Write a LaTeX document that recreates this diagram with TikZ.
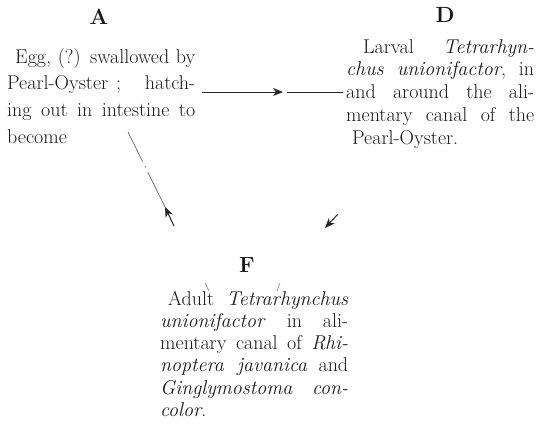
\documentclass[tikz,border=0pt]{standalone}
\usepackage{fontspec}
\usetikzlibrary{arrows.meta}
\begin{document}
\begin{tikzpicture}[x=1pt,y=-1pt,
  lbl/.style={font=\fontsize{22}{22}\selectfont\bfseries, inner sep=0, text=black!90},
  blk/.style={anchor=north west, inner sep=0, align=left, text=black!90},
  arr/.style={line width=1pt, draw=black!85, -{Stealth[length=10pt,width=8pt,inset=3pt]}},
  plain/.style={line width=1pt, draw=black!85},
  dashln/.style={line width=0.7pt, draw=black!60, dash pattern=on 33pt off 5pt on 1.5pt off 5pt on 60pt},
  tick/.style={line width=0.5pt, draw=black!55}]
\useasboundingbox (0,0) rectangle (537,426);

% letters
\node[lbl] (la) at (99,17) {A};
\node[lbl] (ld) at (445,15) {D};
\node[lbl] (lf) at (247,265) {F};

% text blocks
\node[blk, font=\fontsize{20}{26.7}\selectfont] (ta) at (7,48)
 {\hspace*{8pt}\makebox[180pt][s]{Egg, (?) swallowed by}\\
  \makebox[188pt][s]{Pearl-Oyster ;\ \ \ hatch-}\\
  \makebox[188pt][s]{ing out in intestine to}\\
  become};

\node[blk, font=\fontsize{20}{22.75}\selectfont] (td) at (346,39)
 {\hspace*{17pt}\makebox[171pt][s]{Larval \textit{Tetrarhyn-}}\\
  \makebox[188pt][s]{\textit{chus unionifactor}, in}\\
  \makebox[188pt][s]{and around the ali-}\\
  \makebox[188pt][s]{mentary canal of the}\\
  \hspace*{6pt}Pearl-Oyster.};

\node[blk, font=\fontsize{20}{22.2}\selectfont] (tf) at (160,291)
 {\hspace*{8pt}\makebox[180pt][s]{Adult \textit{Tetrarhynchus}}\\
  \makebox[188pt][s]{\textit{unionifactor} in ali-}\\
  \makebox[188pt][s]{mentary canal of \textit{Rhi-}}\\
  \makebox[188pt][s]{\textit{noptera javanica} and}\\
  \makebox[188pt][s]{\textit{Ginglymostoma} \ \textit{con-}}\\
  \textit{color}.};

% connector A -> D
\coordinate (h1) at (202,92);
\coordinate (h2) at (283,92);
\coordinate (h3) at (287,92);
\coordinate (h4) at (343,92);
\draw[arr] (h1) -- (h2);
\draw[plain] (h3) -- (h4);

% connector D -> F
\coordinate (d1) at (338,214);
\coordinate (d2) at (325,228);
\draw[arr] (d1) -- (d2);

% connector F -> A
\coordinate (f1) at (174,226);
\coordinate (f2) at (165,207);
\coordinate (a1) at (128,132);
\draw[arr] (f1) -- (f2);
\draw[dashln] (a1) -- (f2);

% small marks above F text
\draw[tick] (205,283) -- (209,291);
\draw[tick] (280,283) -- (277,291);
\end{tikzpicture}
\end{document}
